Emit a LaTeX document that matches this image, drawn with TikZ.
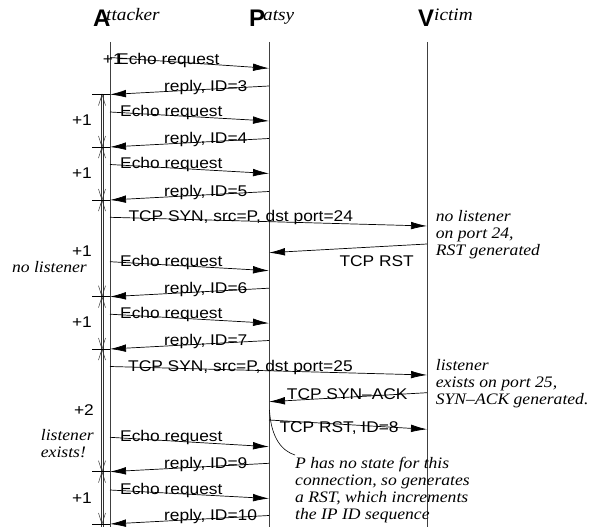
\documentclass[tikz,border=0pt]{standalone}
\usepackage{fontspec}
\setmainfont{Liberation Serif}
\setsansfont{Liberation Sans}
\usepackage{graphicx}
\usetikzlibrary{arrows.meta}
\newcommand\hs[1]{\scalebox{1.12}[1]{#1}}
\newcommand\hn[1]{\scalebox{1.1}[1]{#1}}
\newcommand\notelines[1]{\hn{\begin{tabular}[t]{@{}l@{}}#1\end{tabular}}}
\begin{document}
\begin{tikzpicture}[x=1pt,y=-1pt,
 lifeline/.style={draw=black!75, line width=0.8pt},
 msg/.style={draw, line width=0.7pt, -{Latex[length=16pt,width=7.6pt]}},
 lbl/.style={font=\sffamily\fontsize{15.5}{17}\selectfont, inner sep=0pt, anchor=base west},
 notetxt/.style={font=\itshape\fontsize{16}{17}\selectfont, inner sep=0pt, anchor=base west},
 hdrit/.style={font=\itshape\fontsize{17.5}{18}\selectfont, inner sep=0pt, anchor=base west},
 hdr/.style={font=\sffamily\bfseries\fontsize{24}{24}\selectfont, inner sep=0pt, anchor=base west},
 tickln/.style={draw, line width=0.7pt},
 cntline/.style={draw=black!80, line width=0.5pt},
]
\fill[white] (0,0) rectangle (594,527);
\useasboundingbox (0,0) rectangle (594,527);

% headers
\node[hdr] (hA) at (93,27) {A};
\node[hdrit] (hAt) at (106,21) {\hn{ttacker}};
\node[hdr] (hP) at (249,27) {P};
\node[hdrit] (hPt) at (263,21) {\hn{atsy}};
\node[hdr] (hV) at (418,27) {V};
\node[hdrit] (hVt) at (434,21) {\hn{ictim}};

% lifelines
\coordinate (At) at (110,42); \coordinate (Ab) at (110,527);
\coordinate (Pt) at (269,42); \coordinate (Pb) at (269,527);
\coordinate (Vt) at (427,42); \coordinate (Vb) at (427,527);
\draw[lifeline] (At) -- (Ab);
\draw[lifeline] (Pt) -- (Pb);
\draw[lifeline] (Vt) -- (Vb);

% counting line
\draw[cntline] (100.8,94.5) -- (100.8,527);
\draw[cntline] (103.2,94.5) -- (103.2,527);
\foreach \t in {94.5,147,200,296.7,349,471.7} {
  \draw[cntline] (98.5,\t+11) -- (102,\t) -- (105.5,\t+11);
}
\foreach \t in {147,200,296.7,349,471.7,524} {
  \draw[cntline] (98.5,\t-11) -- (102,\t) -- (105.5,\t-11);
}
\foreach \t in {94.5,147,200,296.7,349,471.7,524} {
  \draw[tickln] (92,\t) -- (110,\t);
}

% counter labels
\node[lbl, anchor=base east] (c1) at (92,125) {\hs{+1}};
\node[lbl, anchor=base east] (c2) at (92,178) {\hs{+1}};
\node[lbl, anchor=base east] (c3) at (92,256.5) {\hs{+1}};
\node[notetxt, anchor=base east] (nl) at (87,272) {\hn{no listener}};
\node[lbl, anchor=base east] (c4) at (92,327) {\hs{+1}};
\node[lbl, anchor=base east] (c5) at (94,415) {\hs{+2}};
\node[notetxt] (le) at (40.7,440) {\notelines{listener\\exists!}};
\node[lbl, anchor=base east] (c6) at (92,503) {\hs{+1}};

% messages
\draw[msg] (110,57.5) coordinate (e1s) -- (269,68.3) coordinate (e1e);
\node[lbl] (c0) at (102.7,64) {\hs{+1}};
\node[lbl] (le1) at (117,64) {\hs{Echo request}};
\draw[msg] (269,86) coordinate (r3s) -- (110,94.5) coordinate (r3e);
\node[lbl] (lr3) at (164,91) {\hs{reply, ID=3}};

\draw[msg] (110,112) coordinate (e2s) -- (269,121) coordinate (e2e);
\node[lbl] (le2) at (120,116) {\hs{Echo request}};
\draw[msg] (269,138.5) coordinate (r4s) -- (110,147) coordinate (r4e);
\node[lbl] (lr4) at (164,143.5) {\hs{reply, ID=4}};

\draw[msg] (110,164.5) coordinate (e3s) -- (269,173.5) coordinate (e3e);
\node[lbl] (le3) at (120,168.5) {\hs{Echo request}};
\draw[msg] (269,191.5) coordinate (r5s) -- (110,200) coordinate (r5e);
\node[lbl] (lr5) at (164,196.5) {\hs{reply, ID=5}};

\draw[msg] (110,217.3) coordinate (s24s) -- (427,226) coordinate (s24e);
\node[lbl] (ls24) at (128.3,221.3) {\hs{TCP SYN, src=P, dst port=24}};
\draw[msg] (427,244) coordinate (rsts) -- (269,252.7) coordinate (rste);
\node[lbl] (lrst) at (339.3,266.7) {\hs{TCP RST}};
\node[notetxt] (n24) at (435.7,221.7) {\notelines{no listener\\on port 24,\\RST generated}};

\draw[msg] (110,261.7) coordinate (e4s) -- (269,270.7) coordinate (e4e);
\node[lbl] (le4) at (120,266) {\hs{Echo request}};
\draw[msg] (269,288.2) coordinate (r6s) -- (110,296.7) coordinate (r6e);
\node[lbl] (lr6) at (164,293) {\hs{reply, ID=6}};

\draw[msg] (110,314.2) coordinate (e5s) -- (269,323.2) coordinate (e5e);
\node[lbl] (le5) at (120,318.5) {\hs{Echo request}};
\draw[msg] (269,340.5) coordinate (r7s) -- (110,349) coordinate (r7e);
\node[lbl] (lr7) at (164,345.5) {\hs{reply, ID=7}};

\draw[msg] (110,366.5) coordinate (s25s) -- (427,375) coordinate (s25e);
\node[lbl] (ls25) at (128,371) {\hs{TCP SYN, src=P, dst port=25}};
\node[notetxt] (n25) at (435.7,370.5) {\notelines{listener\\exists on port 25,\\SYN--ACK generated.}};
\draw[msg] (427,392.7) coordinate (sas) -- (269,401.7) coordinate (sae);
\node[lbl] (lsa) at (286.7,399.3) {\hs{TCP SYN--ACK}};
\draw[msg] (269,420) coordinate (r8s) -- (427,429.3) coordinate (r8e);
\node[lbl] (lr8) at (279.3,432.7) {\hs{TCP RST, ID=8}};

\coordinate (cs) at (269.5,410);
\coordinate (ce) at (295,455);
\draw[line width=0.6pt] (cs) .. controls (271,438) and (282,451) .. (ce);
\node[notetxt] (pn) at (295,468.3) {\notelines{P has no state for this\\connection, so generates\\a RST, which increments\\the IP ID sequence}};

\draw[msg] (110,437.3) coordinate (e6s) -- (269,446.7) coordinate (e6e);
\node[lbl] (le6) at (120,441.7) {\hs{Echo request}};
\draw[msg] (269,463.3) coordinate (r9s) -- (110,471.7) coordinate (r9e);
\node[lbl] (lr9) at (164,468) {\hs{reply, ID=9}};

\draw[msg] (110,490) coordinate (e7s) -- (269,498.5) coordinate (e7e);
\node[lbl] (le7) at (120,494) {\hs{Echo request}};
\draw[msg] (269,515.5) coordinate (r10s) -- (110,524) coordinate (r10e);
\node[lbl] (lr10) at (164,520.5) {\hs{reply, ID=10}};
\end{tikzpicture}
\end{document}
